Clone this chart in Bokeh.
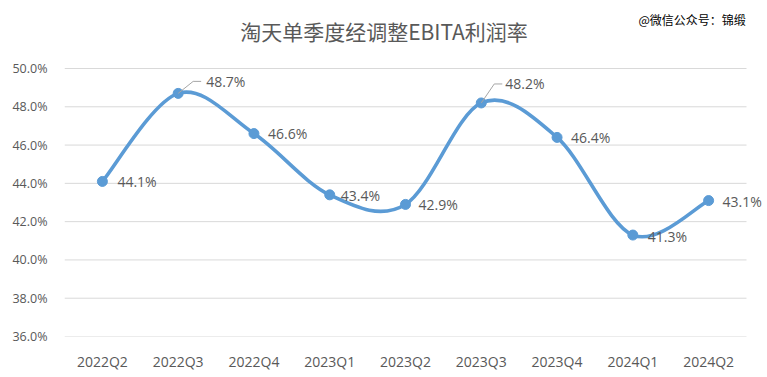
import numpy as np
from bokeh.plotting import figure
from bokeh.models import Label, FixedTicker, PrintfTickFormatter, Range1d, ColumnDataSource
from bokeh.embed import file_html
from bokeh.resources import INLINE
from bokeh.core.properties import value

# ---- data ----
categories = ["2022Q2", "2022Q3", "2022Q4", "2023Q1", "2023Q2",
              "2023Q3", "2023Q4", "2024Q1", "2024Q2"]
margin = [44.1, 48.7, 46.6, 43.4, 42.9, 48.2, 46.4, 41.3, 43.1]
y_ticks = [36, 38, 40, 42, 44, 46, 48, 50]
title_text = "淘天单季度经调整EBITA利润率"
watermark_text = "@微信公众号：锦缎"

# ---- style (label offsets in pixels) ----
label_dx = [15, 28, 14, 11, 13, 24, 14, 15, 14]
label_dy_up = [0, 12, 0, -1, 0, 19, 0, -1, -1]
leader_idx = [1, 5]
leader_pts = {1: [(0, 0), (15, 12), (23, 12)], 5: [(0, 0), (13, 19), (21, 19)]}

W, H = 767, 377
L, R, T, B = 64, 21, 68, 41          # plot-area margins of the reference
n = len(categories)
ymin, ymax = 36, 50
px_x = (W - L - R) / n
px_y = (H - T - B) / (ymax - ymin)

BLUE = "#5b9bd5"
GRAY_TXT = "#595959"

# frame extends to top/right canvas edges so texts are not clipped
p = figure(width=W, height=H, output_backend="svg", toolbar_location=None,
           x_range=Range1d(-0.5, -0.5 + (W - L) / px_x),
           y_range=Range1d(ymin, ymin + (H - B) / px_y),
           min_border_left=L, min_border_right=0, min_border_top=0, min_border_bottom=B)
p.background_fill_color = "white"
p.border_fill_color = "white"
p.outline_line_color = None

# horizontal gridlines at the tick values, across the category span only
p.segment(x0=[-0.5] * len(y_ticks), x1=[n - 0.5] * len(y_ticks), y0=y_ticks, y1=y_ticks,
          line_color="#d9d9d9", line_width=1)

xs = np.arange(n, dtype=float)
ys = np.array(margin, dtype=float)

# smooth curve (Catmull-Rom -> cubic Bezier) from the data points
P = np.column_stack([xs, ys])
Pext = np.vstack([P[0], P, P[-1]])
x0s, y0s, x1s, y1s, cx0s, cy0s, cx1s, cy1s = [], [], [], [], [], [], [], []
for i in range(n - 1):
    p0, p1, p2, p3 = Pext[i], Pext[i + 1], Pext[i + 2], Pext[i + 3]
    c0 = p1 + (p2 - p0) / 6.0
    c1 = p2 - (p3 - p1) / 6.0
    x0s.append(p1[0]); y0s.append(p1[1]); x1s.append(p2[0]); y1s.append(p2[1])
    cx0s.append(c0[0]); cy0s.append(c0[1]); cx1s.append(c1[0]); cy1s.append(c1[1])
bz = ColumnDataSource(dict(x0=x0s, y0=y0s, x1=x1s, y1=y1s,
                           cx0=cx0s, cy0=cy0s, cx1=cx1s, cy1=cy1s))
p.bezier(x0="x0", y0="y0", x1="x1", y1="y1", cx0="cx0", cy0="cy0", cx1="cx1", cy1="cy1",
         source=bz, line_color=BLUE, line_width=3.6, line_cap="round")

p.scatter(xs, ys, size=10, marker="circle", fill_color=BLUE, line_color=BLUE)

# leader lines
for i in leader_idx:
    lx = [xs[i] + dx / px_x for dx, dy in leader_pts[i]]
    ly = [ys[i] + dy / px_y for dx, dy in leader_pts[i]]
    p.line(lx, ly, line_color="#a6a6a6", line_width=1)

# data labels
lab_src = ColumnDataSource(dict(x=xs, y=ys, t=[f"{v:.1f}%" for v in margin],
                                dx=label_dx, dy=[-d for d in label_dy_up]))
p.text(x="x", y="y", text="t", x_offset="dx", y_offset="dy", source=lab_src,
       text_font=value("Open Sans"), text_font_size="14px", text_color=GRAY_TXT,
       text_align="left", text_baseline="middle")

# axes
p.xaxis.ticker = FixedTicker(ticks=list(range(n)))
p.xaxis.major_label_overrides = {i: c for i, c in enumerate(categories)}
p.yaxis.ticker = FixedTicker(ticks=y_ticks)
p.yaxis.formatter = PrintfTickFormatter(format="%.1f%%")
for ax in (p.xaxis, p.yaxis):
    ax.axis_line_color = None
    ax.major_tick_line_color = None
    ax.minor_tick_line_color = None
    ax.major_label_text_font = "Open Sans"
    ax.major_label_text_color = GRAY_TXT
p.xaxis.major_label_text_font_size = "14px"
p.yaxis.major_label_text_font_size = "12.5px"
p.yaxis.major_label_standoff = 11
p.xaxis.major_label_standoff = 9

p.xgrid.grid_line_color = None
p.ygrid.grid_line_color = None

# title and watermark (screen units, relative to the frame's bottom-left)
p.add_layout(Label(x=383.5 - L, y=(H - B) - 30, x_units="screen", y_units="screen",
                   text=title_text, text_font="Noto Sans CJK SC", text_font_size="21px",
                   text_color=GRAY_TXT, text_align="center", text_baseline="middle"))
p.add_layout(Label(x=638 - L, y=(H - B) - 19, x_units="screen", y_units="screen",
                   text=watermark_text, text_font="Noto Sans CJK SC", text_font_size="12px",
                   text_color="black", text_align="left", text_baseline="middle"))

open("out.html", "w").write(file_html(p, INLINE))
